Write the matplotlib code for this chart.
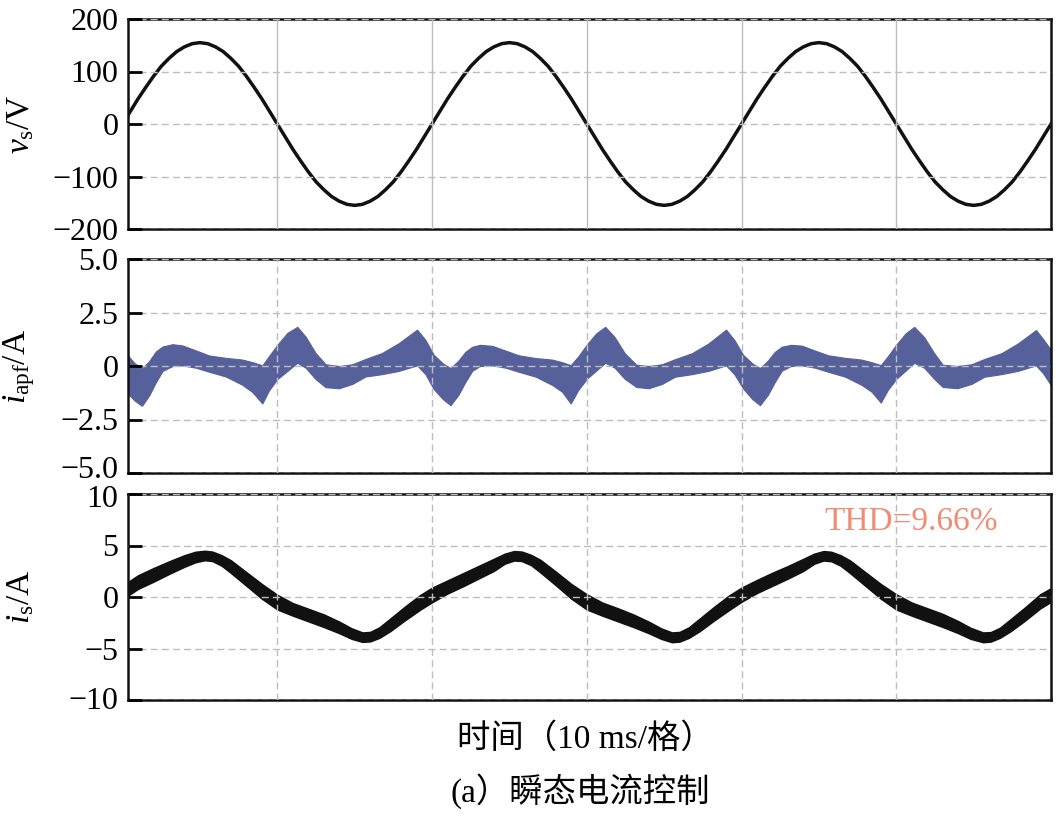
import numpy as np
import matplotlib
matplotlib.use("Agg")
import matplotlib.pyplot as plt
import matplotlib.transforms as mtrans

plt.rcParams['font.family'] = ['Liberation Serif', 'Noto Sans CJK SC', 'DejaVu Sans']
plt.rcParams['mathtext.fontset'] = 'custom'
plt.rcParams['mathtext.rm'] = 'Liberation Serif'
plt.rcParams['mathtext.it'] = 'Liberation Serif:italic'
plt.rcParams['axes.unicode_minus'] = True

# ---------------- data ----------------
# panel 1: source voltage v_s (V), sampled every 0.5 ms
t_v = np.arange(0, 60.01, 0.5)
v_s = [0, 24, 48, 70, 91, 110, 125, 138, 147, 153, 155, 153, 147, 138, 125, 110, 91, 70, 48, 24,
       0, -24, -48, -70, -91, -110, -125, -138, -147, -153, -155, -153, -147, -138, -125, -110, -91, -70, -48, -24,
       0, 24, 48, 70, 91, 110, 125, 138, 147, 153, 155, 153, 147, 138, 125, 110, 91, 70, 48, 24,
       0, -24, -48, -70, -91, -110, -125, -138, -147, -153, -155, -153, -147, -138, -125, -110, -91, -70, -48, -24,
       0, 24, 48, 70, 91, 110, 125, 138, 147, 153, 155, 153, 147, 138, 125, 110, 91, 70, 48, 24,
       0, -24, -48, -70, -91, -110, -125, -138, -147, -153, -155, -153, -147, -138, -125, -110, -91, -70, -48, -24,
       0]

# panel 2: APF current envelope (upper / lower), A
t_apf = [0.35, 0.75, 1.25, 1.72, 2.15, 2.58, 3.23, 3.87, 4.73, 5.60, 6.67, 7.74, 8.39, 9.03, 9.46,
         10.0, 10.65, 11.29, 11.83, 12.47, 13.12, 13.98, 14.84, 15.70, 16.77, 17.85, 19.03, 19.57,
         20.10, 20.70, 21.19, 21.70, 22.15, 22.60, 23.10, 23.90, 24.75, 25.60, 26.70, 27.75, 28.40, 28.96, 29.45,
         30.0, 30.60, 31.19, 31.80, 32.45, 33.20, 34.00, 34.85, 35.70, 36.80, 37.85, 39.00, 39.55,
         40.10, 40.70, 41.19, 41.70, 42.15, 42.60, 43.20, 43.90, 44.75, 45.60, 46.70, 47.75, 48.40, 49.00, 49.45,
         50.0, 50.60, 51.16, 51.80, 52.45, 53.00, 53.95, 54.85, 55.70, 56.80, 57.85, 59.03, 59.50, 60.0]
up_apf = [0.49, 0.15, -0.12, 0.23, 0.68, 0.91, 1.02, 0.96, 0.73, 0.49, 0.38, 0.30, 0.18, 0.03, 0.46,
          0.99, 1.55, 1.83, 1.37, 0.61, 0.08, 0.00, 0.08, 0.33, 0.61, 1.07, 1.70, 1.22,
          0.53, 0.12, -0.10, 0.25, 0.66, 0.90, 0.99, 0.94, 0.72, 0.50, 0.37, 0.30, 0.18, 0.04, 0.45,
          1.00, 1.52, 1.83, 1.35, 0.60, 0.06, 0.00, 0.08, 0.32, 0.60, 1.05, 1.70, 1.20,
          0.52, 0.12, -0.10, 0.25, 0.66, 0.90, 0.99, 0.95, 0.72, 0.50, 0.38, 0.30, 0.18, 0.04, 0.45,
          1.00, 1.52, 1.83, 1.35, 0.60, 0.06, 0.00, 0.08, 0.33, 0.60, 1.05, 1.68, 1.25, 0.75]
lo_apf = [-1.29, -1.60, -1.86, -1.37, -0.76, -0.23, 0.00, 0.03, -0.08, -0.27, -0.49, -0.88, -1.22, -1.75, -1.14,
          -0.61, -0.23, 0.15, -0.08, -0.61, -0.99, -1.04, -0.84, -0.49, -0.38, -0.23, 0.03, -0.38,
          -1.07, -1.55, -1.83, -1.35, -0.75, -0.22, 0.00, 0.03, -0.08, -0.27, -0.50, -0.88, -1.20, -1.75, -1.12,
          -0.60, -0.22, 0.15, -0.08, -0.60, -0.98, -1.04, -0.84, -0.50, -0.38, -0.23, 0.03, -0.40,
          -1.05, -1.55, -1.83, -1.35, -0.75, -0.22, 0.00, 0.03, -0.08, -0.27, -0.50, -0.88, -1.20, -1.71, -1.12,
          -0.60, -0.22, 0.15, -0.08, -0.60, -0.98, -1.04, -0.84, -0.50, -0.38, -0.23, 0.03, -0.35, -0.90]

# panel 3: source current envelope (upper / lower), A
t_is = [0.35, 1.0, 2.0, 3.0, 4.0, 4.7, 5.3, 5.8, 6.4, 7.0, 8.0, 9.0,
        10.0, 11.0, 12.0, 13.0, 14.0, 14.8, 15.5, 16.0, 16.6, 17.3, 18.2, 19.2,
        20.0, 21.0, 22.0, 23.0, 24.0, 24.7, 25.3, 25.8, 26.4, 27.0, 28.0, 29.0,
        30.0, 31.0, 32.0, 33.0, 34.0, 34.8, 35.5, 36.0, 36.6, 37.3, 38.2, 39.2,
        40.0, 41.0, 42.0, 43.0, 44.0, 44.7, 45.3, 45.8, 46.4, 47.0, 48.0, 49.0,
        50.0, 51.0, 52.0, 53.0, 54.0, 54.8, 55.6, 56.1, 56.7, 57.4, 58.3, 59.3, 60.0]
up_is = [1.45, 2.10, 2.80, 3.45, 4.05, 4.38, 4.48, 4.40, 4.05, 3.55, 2.40, 1.25,
         0.20, -0.60, -1.15, -1.70, -2.40, -3.05, -3.45, -3.40, -2.95, -2.10, -1.00, 0.15,
         0.90, 1.60, 2.30, 3.00, 3.70, 4.20, 4.45, 4.40, 4.08, 3.60, 2.45, 1.25,
         0.25, -0.55, -1.10, -1.70, -2.40, -3.05, -3.45, -3.40, -2.95, -2.10, -1.00, 0.15,
         0.90, 1.65, 2.35, 3.00, 3.70, 4.20, 4.45, 4.38, 4.05, 3.55, 2.40, 1.25,
         0.25, -0.55, -1.10, -1.65, -2.35, -3.00, -3.45, -3.42, -3.00, -2.15, -1.05, 0.25, 0.85]
lo_is = [0.15, 0.80, 1.50, 2.25, 2.95, 3.38, 3.58, 3.50, 3.05, 2.35, 1.10, -0.15,
         -1.20, -1.80, -2.35, -2.90, -3.50, -4.05, -4.35, -4.30, -3.95, -3.30, -2.30, -1.25,
         -0.50, 0.35, 1.05, 1.80, 2.55, 3.25, 3.55, 3.50, 3.10, 2.40, 1.15, -0.15,
         -1.20, -1.80, -2.35, -2.90, -3.50, -4.05, -4.38, -4.32, -3.95, -3.30, -2.30, -1.25,
         -0.45, 0.40, 1.10, 1.80, 2.55, 3.25, 3.55, 3.48, 3.05, 2.35, 1.10, -0.15,
         -1.20, -1.80, -2.35, -2.90, -3.50, -4.05, -4.38, -4.32, -3.95, -3.30, -2.30, -1.10, -0.45]

grid_t = [10, 20, 30, 40, 50]
v_ticks = [-200, -100, 0, 100, 200]
v_labels = ['\u2212200', '\u2212100', '0', '100', '200']
apf_ticks = [-5.0, -2.5, 0, 2.5, 5.0]
apf_labels = ['\u22125.0', '\u22122.5', '0', '2.5', '5.0']
is_ticks = [-10, -5, 0, 5, 10]
is_labels = ['\u221210', '\u22125', '0', '5', '10']

# ---------------- figure ----------------
W, H = 1056, 823
fig = plt.figure(figsize=(W / 100, H / 100), dpi=100)

def axes_px(left, right, top, bottom):
    return fig.add_axes([left / W, 1 - bottom / H, (right - left) / W, (bottom - top) / H])

ax1 = axes_px(128, 1051, 19, 229)
ax2 = axes_px(128, 1051, 259, 473)
ax3 = axes_px(128, 1051, 494, 700)

grid_col = '#BDBDBD'
for ax, ticks, labels, ylab, vsolid in [
        (ax1, v_ticks, v_labels, r'$\mathit{v}_{\mathrm{s}}$/V', True),
        (ax2, apf_ticks, apf_labels, r'$\mathit{i}_{\mathrm{apf}}$/A', False),
        (ax3, is_ticks, is_labels, r'$\mathit{i}_{\mathrm{s}}$/A', False)]:
    ax.set_xlim(0.35, 60)
    ax.set_ylim(ticks[0], ticks[-1])
    ax.set_yticks(ticks)
    ax.set_yticklabels(labels)
    ax.set_xticks(grid_t)
    ax.tick_params(axis='x', bottom=False, labelbottom=False)
    ax.tick_params(axis='y', direction='in', length=10, width=2.0, pad=7,
                   labelsize=23, right=False)
    ax.grid(axis='y', color=grid_col, linestyle=(0, (5, 3)), linewidth=1.0)
    if vsolid:
        ax.grid(axis='x', color=grid_col, linestyle='-', linewidth=1.0)
    else:
        ax.grid(axis='x', color=grid_col, linestyle=(0, (5, 3)), linewidth=1.0)
    ax.set_axisbelow(False)
    for s in ax.spines.values():
        s.set_linewidth(1.8)
        s.set_color('#111111')
    ax.set_ylabel(ylab, fontsize=24, labelpad=0)
    ax.yaxis.set_label_coords(-0.099, 0.5)

# nudge crowded edge labels apart
def nudge(label, dy_px):
    label.set_transform(label.get_transform() +
                        mtrans.ScaledTranslation(0, dy_px / 100, fig.dpi_scale_trans))

nudge(ax2.get_yticklabels()[0], 6)
nudge(ax3.get_yticklabels()[-1], -2)
nudge(ax3.get_yticklabels()[0], 2)

ax1.plot(t_v, v_s, color='#111111', linewidth=2.5, zorder=2)
ax2.fill_between(t_apf, lo_apf, up_apf, color='#56609A', linewidth=0.8,
                 edgecolor='#56609A', zorder=2)
ax3.fill_between(t_is, lo_is, up_is, color='#111111', linewidth=1.2,
                 edgecolor='#111111', zorder=2)

ax3.text(0.848, 0.864, 'THD=9.66%', transform=ax3.transAxes, ha='center', va='center',
         fontsize=24, color='#EE8C74')

fig.text(585 / W, 1 - 739 / H, '时间（10 ms/格）', ha='center', va='center', fontsize=24)
fig.text(580 / W, 1 - 791 / H, '(a\uff09瞬态电流控制', ha='center', va='center', fontsize=24)

fig.savefig('out.png', dpi=100)
